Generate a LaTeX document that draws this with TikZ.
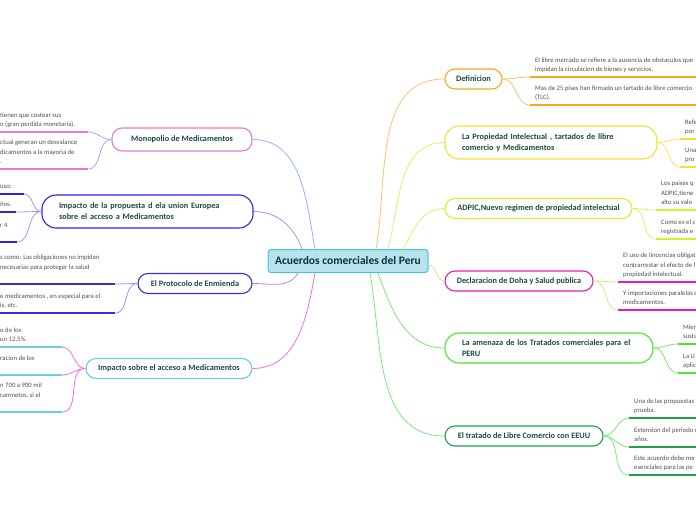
\documentclass[tikz,border=0pt]{standalone}
\usepackage{fontspec}
\setmainfont{Carlito}
\usepackage{tikz}
\usetikzlibrary{positioning}

\definecolor{rootfill}{HTML}{B7E3EA}
\definecolor{rootline}{HTML}{48C4D4}
\definecolor{roottext}{HTML}{0E2F45}
\definecolor{topictext}{HTML}{1B4D3E}
\definecolor{leaftext}{HTML}{505050}
% node borders / underlines
\definecolor{cOrange}{HTML}{F7A823}
\definecolor{cYellow}{HTML}{F5E12C}
\definecolor{cLime}{HTML}{D7F224}
\definecolor{cMagenta}{HTML}{E91EAF}
\definecolor{cGreen}{HTML}{52E32E}
\definecolor{cDkGreen}{HTML}{1FA04A}
\definecolor{cPink}{HTML}{E87BC2}
\definecolor{cBlue}{HTML}{3B1FE6}
\definecolor{cIndigo}{HTML}{3A30D2}
\definecolor{cCyan}{HTML}{6ACFD9}
% connector colours
\definecolor{lOrange}{HTML}{F9C26B}
\definecolor{lYellow}{HTML}{F3E56A}
\definecolor{lLime}{HTML}{DDF06A}
\definecolor{lDoha}{HTML}{C8F07A}
\definecolor{lGreen}{HTML}{7EE86A}
\definecolor{lDkGreen}{HTML}{74EC80}
\definecolor{lBlue}{HTML}{8FB3F6}
\definecolor{lLavender}{HTML}{A896F2}
\definecolor{lViolet}{HTML}{C57DF2}
\definecolor{lPink}{HTML}{F26DE6}

\begin{document}
\begin{tikzpicture}[
        x=1pt, y=-1pt,
        font=\fontsize{6.7}{9.5}\selectfont,
        root/.style={draw=rootline, fill=rootfill, line width=1pt, rounded corners=3pt, minimum width=160pt, minimum height=23pt, font=\fontsize{11.5}{13}\selectfont\bfseries, text=roottext},
        topic/.style={draw=#1, fill=white, line width=1.1pt, rounded corners=10pt, minimum height=20pt, inner xsep=6pt, font=\fontsize{8.3}{11}\selectfont\bfseries, text=topictext},
        wide/.style={text width=#1, align=left, inner xsep=17pt, rounded corners=14pt},
        leaf/.style={anchor=south west, inner xsep=5pt, inner ysep=3.5pt, text depth=1.5pt, align=left, text=leaftext},
        link/.style={draw=#1, line width=0.8pt},
        uline/.style={draw=#1, line width=1.8pt},
    ]
    \useasboundingbox (0,0) rectangle (696,520);
    \coordinate (L) at (-5,0);
    \coordinate (R) at (700,0);

    % ---- Centre ----
    \node[root] (root) at (348,261) {Acuerdos comerciales del Peru};

    % ---- Right branches ----
    \node[topic=cOrange, minimum width=57pt] (def) at (473.5,79) {Definicion};
    \node[topic=cYellow, wide=178pt, minimum height=33pt] (prop) at (551,142.5) {La Propiedad Intelectual , tartados de libre\\comercio y Medicamentos};
    \node[topic=cLime, minimum width=187pt] (adpic) at (538.5,208.5) {ADPIC,Nuevo regimen de propiedad intelectual};
    \node[topic=cMagenta, minimum width=148pt] (doha) at (519,281) {Declaracion de Doha y Salud publica};
    \node[topic=cGreen, wide=174pt, minimum height=30pt] (amen) at (549,348) {La amenaza de los Tratados comerciales para el\\PERU};
    \node[topic=cDkGreen, minimum width=158pt] (eeuu) at (524,436) {El tratado de Libre Comercio con EEUU};

    \draw[link=lOrange] ([xshift=28pt]root.north) to[out=80, in=180] (def.west);
    \draw[link=lYellow] ([xshift=40pt]root.north) to[out=75, in=180] (prop.west);
    \draw[link=lLime] ([xshift=55pt]root.north) to[out=60, in=180] (adpic.west);
    \draw[link=lDoha] ([yshift=-4pt]root.east) to[out=0, in=180] (doha.west);
    \draw[link=lGreen] ([xshift=30pt]root.south) to[out=-70, in=180] (amen.west);
    \draw[link=lDkGreen] ([xshift=22pt]root.south) to[out=-80, in=180] (eeuu.west);

    % ---- Left branches ----
    \node[topic=cPink, minimum width=140pt, minimum height=23pt] (mono) at (182,139.5) {Monopolio de Medicamentos};
    \node[topic=cBlue, wide=177pt, minimum height=33pt] (ue) at (147.5,211.5) {Impacto de la propuesta d ela union Europea\\sobre el acceso a Medicamentos};
    \node[topic=cIndigo, minimum width=114pt] (proto) at (195,283.5) {El Protocolo de Enmienda};
    \node[topic=cCyan, minimum width=166pt] (acc) at (169,368.5) {Impacto sobre el acceso a Medicamentos};

    \draw[link=lBlue] ([xshift=-33pt]root.north) to[out=100, in=0] (mono.east);
    \draw[link=lLavender] ([xshift=-46pt]root.north) to[out=110, in=0] (ue.east);
    \draw[link=lViolet] ([xshift=-50pt]root.south) to[out=-120, in=0] (proto.east);
    \draw[link=lPink] ([xshift=-33pt]root.south) to[out=-100, in=0] (acc.east);

    % ---- Leaves: Definicion ----
    \coordinate (d1) at (530,77);
    \coordinate (d2) at (530,105);
    \node[leaf] (d1t) at (d1) {El libre mercado se refiere a la ausencia de obstaculos que\\impidan la circulacion de bienes y servicios.};
    \node[leaf] (d2t) at (d2) {Mas de 25 pises han firmado un tartado de libre comercio\\(TLC).};
    \foreach \l in {d1,d2} {
        \draw[link=lOrange] (def.east) to[out=0, in=180] (\l);
        \draw[uline=cOrange] (\l) -- (\l -| R);
    }

    % ---- Leaves: Propiedad ----
    \coordinate (p1) at (680,139);
    \coordinate (p2) at (680,167);
    \node[leaf] (p1t) at (p1) {Refe\\por};
    \node[leaf] (p2t) at (p2) {Una\\pro};
    \foreach \l in {p1,p2} {
        \draw[link=lYellow] (prop.east) to[out=0, in=180] (\l);
        \draw[uline=cYellow] (\l) -- (\l -| R);
    }

    % ---- Leaves: ADPIC ----
    \coordinate (a1) at (656,210);
    \coordinate (a2) at (656,239);
    \node[leaf] (a1t) at (a1) {Los paises q\\ADPIC,tiene\\alto su valo};
    \node[leaf] (a2t) at (a2) {Como es el c\\registrada e};
    \foreach \l in {a1,a2} {
        \draw[link=lLime] (adpic.east) to[out=0, in=180] (\l);
        \draw[uline=cLime] (\l) -- (\l -| R);
    }

    % ---- Leaves: Doha ----
    \coordinate (h1) at (618,282);
    \coordinate (h2) at (618,310);
    \node[leaf] (h1t) at (h1) {El uso de lincencias obligat\\contrarrestar el efecto de l\\propiedad intelectual.};
    \node[leaf] (h2t) at (h2) {Y importaciones paralelas d\\medicamentos.};
    \foreach \l in {h1,h2} {
        \draw[link=lDoha] (doha.east) to[out=0, in=180] (\l);
        \draw[uline=cMagenta] (\l) -- (\l -| R);
    }

    % ---- Leaves: Amenaza ----
    \coordinate (t1) at (678,344);
    \coordinate (t2) at (678,373);
    \node[leaf] (t1t) at (t1) {Mien\\susta};
    \node[leaf] (t2t) at (t2) {La U\\aplic};
    \foreach \l in {t1,t2} {
        \draw[link=lGreen] (amen.east) to[out=0, in=180] (\l);
        \draw[uline=cGreen] (\l) -- (\l -| R);
    }

    % ---- Leaves: EEUU ----
    \coordinate (e1) at (629,418);
    \coordinate (e2) at (629,447);
    \coordinate (e3) at (629,475);
    \node[leaf] (e1t) at (e1) {Una de las propuestas\\prueba.};
    \node[leaf] (e2t) at (e2) {Extension del periodo d\\años.};
    \node[leaf] (e3t) at (e3) {Este acuerdo debe me\\esenciales para las pe};
    \foreach \l in {e1,e2,e3} {
        \draw[link=lDkGreen] (eeuu.east) to[out=0, in=180] (\l);
        \draw[uline=cDkGreen] (\l) -- (\l -| R);
    }

    % ---- Leaves: Monopolio ----
    \coordinate (m1) at (88,132);
    \coordinate (m2) at (88,169);
    \node[leaf] (m1t) at (m1 -| L) {tienen que costear sus\\o (gran perdida monetaria).};
    \node[leaf] (m2t) at (m2 -| L) {ctual generan un desvalance\\dicamentos a la mayoria de\\.};
    \foreach \l in {m1,m2} {
        \draw[link=lBlue] (mono.west) to[out=180, in=0] (\l);
        \draw[uline=cPink] (\l) -- (\l -| L);
    }

    % ---- Leaves: Union Europea ----
    \coordinate (u1) at (24,194);
    \coordinate (u2) at (16,212);
    \coordinate (u3) at (17,242);
    \node[leaf] (u1t) at (u1 -| L) {uso:};
    \node[leaf] (u2t) at (u2 -| L) {ños.};
    \node[leaf] (u3t) at (u3 -| L) {r 4\\\mbox{}};
    \foreach \l in {u1,u2,u3} {
        \draw[link=lLavender] (ue.west) to[out=180, in=0] (\l);
        \draw[uline=cBlue] (\l) -- (\l -| L);
    }

    % ---- Leaves: Protocolo ----
    \coordinate (r1) at (115,284);
    \coordinate (r2) at (115,313);
    \node[leaf] (r1t) at (r1 -| L) {s como: Las obligaciones no impiden\\necesarias para proteger la salud\\\mbox{}};
    \node[leaf] (r2t) at (r2 -| L) {e medicamentos , en especial para el\\is, etc.};
    \foreach \l in {r1,r2} {
        \draw[link=lViolet] (proto.west) to[out=180, in=0] (\l);
        \draw[uline=cIndigo] (\l) -- (\l -| L);
    }

    % ---- Leaves: Acceso ----
    \coordinate (c1) at (62,347);
    \coordinate (c2) at (62,375);
    \coordinate (c3) at (62,412);
    \node[leaf] (c1t) at (c1 -| L) {o de los\\un 12,5\%.};
    \node[leaf] (c2t) at (c2 -| L) {racion de los\\\mbox{}};
    \node[leaf] (c3t) at (c3 -| L) {n 700 a 900 mil\\camnetos, si el\\\mbox{}};
    \foreach \l in {c1,c2,c3} {
        \draw[link=lPink] (acc.west) to[out=180, in=0] (\l);
        \draw[uline=cCyan] (\l) -- (\l -| L);
    }
\end{tikzpicture}
\end{document}
